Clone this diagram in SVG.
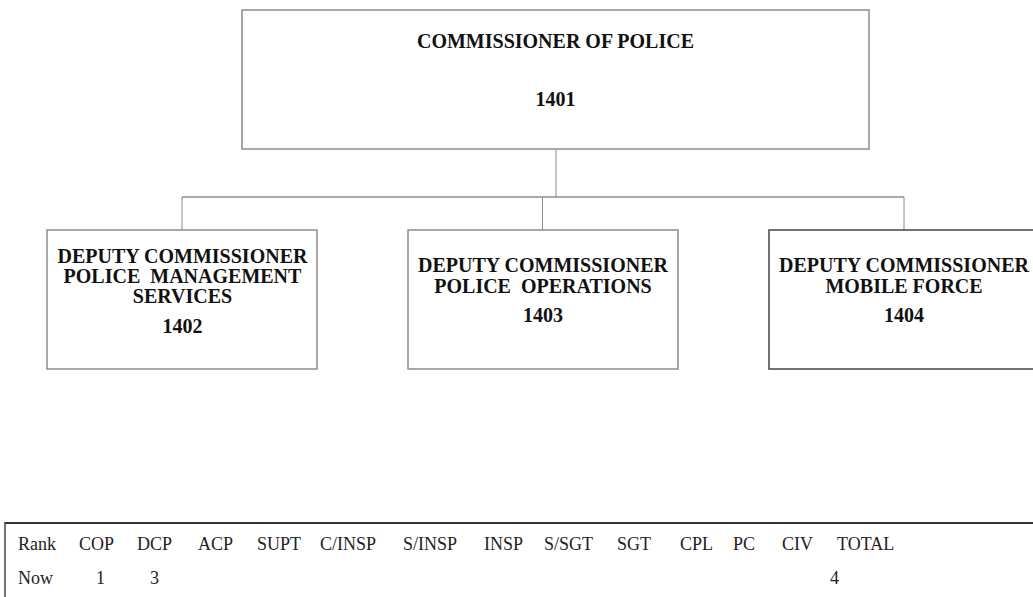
<svg xmlns="http://www.w3.org/2000/svg" width="1033" height="597" viewBox="0 0 1033 597">
  <style>
    .box { fill: #ffffff; stroke: #8c8c8c; stroke-width: 1.5; }
    .lbl { font-family: "Liberation Serif", "Times New Roman", serif; font-weight: bold; font-size: 20px; fill: #111; text-anchor: middle; }
    .conn { fill: none; stroke: #555; stroke-width: 1; }
    .drop { fill: none; stroke: #8c8c8c; stroke-width: 1; }
    .cell { font-family: "Liberation Serif", "Times New Roman", serif; font-size: 18px; fill: #222; }
  </style>
  <rect width="1033" height="597" fill="#ffffff"/>

  <!-- reporting lines -->
  <g id="connectors">
    <line class="drop" x1="556" y1="149" x2="556" y2="197"/>
    <line class="conn" x1="182" y1="197" x2="904" y2="197"/>
    <line class="drop" x1="182" y1="197" x2="182" y2="230"/>
    <line class="drop" x1="542.5" y1="197" x2="542.5" y2="230"/>
    <line class="drop" x1="904" y1="197" x2="904" y2="230"/>
  </g>

  <g id="node-1401">
    <rect class="box" x="242" y="10" width="627" height="139"/>
    <text class="lbl" x="555.5" y="48">COMMISSIONER OF POLICE</text>
    <text class="lbl" x="555.5" y="106">1401</text>
  </g>

  <g id="node-1402">
    <rect class="box" x="47" y="230" width="270" height="139"/>
    <text class="lbl" x="182.5" y="263">DEPUTY COMMISSIONER</text>
    <text class="lbl" x="182.5" y="283" xml:space="preserve">POLICE  MANAGEMENT</text>
    <text class="lbl" x="182.5" y="303">SERVICES</text>
    <text class="lbl" x="182.5" y="333">1402</text>
  </g>

  <g id="node-1403">
    <rect class="box" x="408" y="230" width="270" height="139"/>
    <text class="lbl" x="543" y="272">DEPUTY COMMISSIONER</text>
    <text class="lbl" x="543" y="293" xml:space="preserve">POLICE  OPERATIONS</text>
    <text class="lbl" x="543" y="322">1403</text>
  </g>

  <g id="node-1404">
    <rect class="box" x="769" y="230" width="270" height="139" style="stroke:#444"/>
    <text class="lbl" x="904" y="272">DEPUTY COMMISSIONER</text>
    <text class="lbl" x="904" y="293">MOBILE FORCE</text>
    <text class="lbl" x="904" y="322">1404</text>
  </g>

  <!-- rank summary table -->
  <g id="rank-table">
    <line x1="5" y1="523" x2="1033" y2="523" stroke="#333" stroke-width="2"/>
    <line x1="5" y1="522" x2="5" y2="597" stroke="#444" stroke-width="1.5"/>
    <g class="cell">
      <text x="18" y="550">Rank</text>
      <text x="79" y="550">COP</text>
      <text x="137" y="550">DCP</text>
      <text x="198" y="550">ACP</text>
      <text x="257" y="550">SUPT</text>
      <text x="320" y="550">C/INSP</text>
      <text x="403" y="550">S/INSP</text>
      <text x="484" y="550">INSP</text>
      <text x="544" y="550">S/SGT</text>
      <text x="617" y="550">SGT</text>
      <text x="680" y="550">CPL</text>
      <text x="733" y="550">PC</text>
      <text x="782" y="550">CIV</text>
      <text x="837" y="550">TOTAL</text>
      <text x="18" y="584">Now</text>
      <text x="96" y="584">1</text>
      <text x="150" y="584">3</text>
      <text x="830" y="584">4</text>
    </g>
  </g>
</svg>
